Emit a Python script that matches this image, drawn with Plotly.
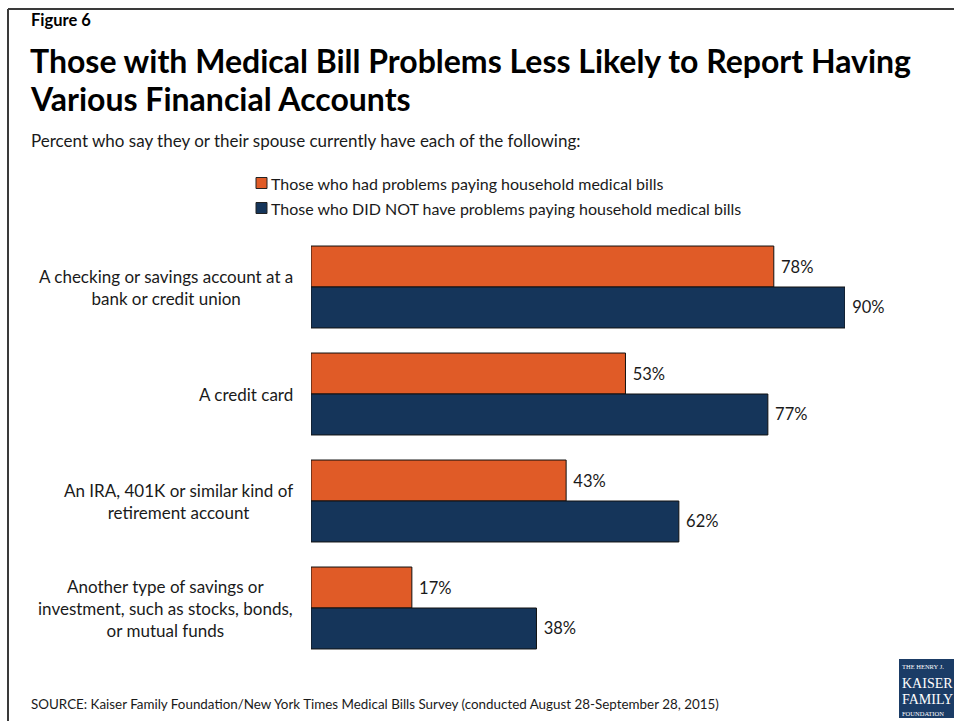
import plotly.graph_objects as go

# ---- data ----
categories = [
    "A checking or savings account at a<br>bank or credit union",
    "A credit card",
    "An IRA, 401K or similar kind of<br>retirement account",
    "Another type of savings or<br>investment, such as stocks, bonds,<br>or mutual funds",
]
series_names = [
    "Those who had problems paying household medical bills",
    "Those who DID NOT have problems paying household medical bills",
]
had_problems = [78, 53, 43, 17]
no_problems = [90, 77, 62, 38]

ORANGE = "#E05B27"
NAVY = "#15355A"
TEXT = "#1a1a1a"
FONT = "Lato"

W, H = 954, 721


def px(x):
    return x / W


def py(y):
    return 1 - y / H


fig = go.Figure()
for name, vals, color in [
    (series_names[0], had_problems, ORANGE),
    (series_names[1], no_problems, NAVY),
]:
    fig.add_trace(go.Bar(
        y=list(range(len(categories))),
        x=vals,
        orientation="h",
        name=name,
        marker=dict(color=color, line=dict(color="#111111", width=1)),
        text=[f"\u00a0{v}%" for v in vals],
        textposition="outside",
        textfont=dict(family=FONT, size=16.5, color=TEXT),
        cliponaxis=False,
        showlegend=False,
        hoverinfo="skip",
    ))

annotations = []
shapes = []

# category labels, centred lines, right edge aligned near the axis
for i, cat in enumerate(categories):
    annotations.append(dict(
        x=px(295), xref="paper", xanchor="right",
        y=i, yref="y", yanchor="middle",
        text=cat, showarrow=False, align="center",
        font=dict(family=FONT, size=17, color=TEXT),
    ))

# titles
annotations += [
    dict(x=px(29), y=py(20), xref="paper", yref="paper", xanchor="left", yanchor="middle",
         text="<b>Figure 6</b>", showarrow=False,
         font=dict(family=FONT, size=16.5, color="#000000")),
    dict(x=px(28), y=py(61), xref="paper", yref="paper", xanchor="left", yanchor="middle",
         text="<b>Those with Medical Bill Problems Less Likely to Report Having</b>",
         showarrow=False, font=dict(family=FONT, size=32, color="#000000")),
    dict(x=px(28), y=py(99), xref="paper", yref="paper", xanchor="left", yanchor="middle",
         text="<b>Various Financial Accounts</b>",
         showarrow=False, font=dict(family=FONT, size=32, color="#000000")),
    dict(x=px(29), y=py(140), xref="paper", yref="paper", xanchor="left", yanchor="middle",
         text="Percent who say they or their spouse currently have each of the following:",
         showarrow=False, font=dict(family=FONT, size=17, color=TEXT)),
    dict(x=px(29), y=py(704), xref="paper", yref="paper", xanchor="left", yanchor="middle",
         text="SOURCE: Kaiser Family Foundation/New York Times Medical Bills Survey (conducted August 28-September 28, 2015)",
         showarrow=False, font=dict(family=FONT, size=13.4, color=TEXT)),
]

# legend
for k, (name, color) in enumerate(zip(series_names, [ORANGE, NAVY])):
    yc = 183 + 25 * k
    shapes.append(dict(type="rect", xref="paper", yref="paper",
                       x0=px(256), x1=px(267), y0=py(yc - 5.5), y1=py(yc + 5.5),
                       fillcolor=color, line=dict(color="#222222", width=1)))
    annotations.append(dict(x=px(269), y=py(yc), xref="paper", yref="paper",
                            xanchor="left", yanchor="middle", text=name, showarrow=False,
                            font=dict(family=FONT, size=16, color=TEXT)))

# frame lines
shapes += [
    dict(type="line", xref="paper", yref="paper", x0=px(8), x1=1, y0=py(9), y1=py(9),
         line=dict(color="#3a3a3a", width=2)),
    dict(type="line", xref="paper", yref="paper", x0=px(8), x1=px(8), y0=py(9), y1=0,
         line=dict(color="#3a3a3a", width=2)),
]

# foundation logo block
shapes.append(dict(type="rect", xref="paper", yref="paper",
                   x0=px(899), x1=1, y0=py(718), y1=py(659),
                   fillcolor="#1B3C66", line=dict(width=0)))
for txt, yc, sz in [("THE HENRY J.", 666, 6.5), ("KAISER", 683, 14),
                    ("FAMILY", 699, 14), ("FOUNDATION", 713, 6.5)]:
    annotations.append(dict(x=px(901), y=py(yc), xref="paper", yref="paper",
                            xanchor="left", yanchor="middle", text=txt, showarrow=False,
                            borderpad=0,
                            font=dict(family="Liberation Serif", size=sz, color="#ffffff")))

fig.update_layout(
    width=W, height=H,
    margin=dict(l=0, r=0, t=0, b=0),
    paper_bgcolor="#ffffff", plot_bgcolor="#ffffff",
    barmode="group", bargap=0.234, bargroupgap=0,
    xaxis=dict(domain=[px(311), px(845)], range=[0, 90], visible=False),
    yaxis=dict(domain=[py(661.5), py(233.5)], range=[3.5, -0.5], visible=False),
    annotations=annotations, shapes=shapes,
    showlegend=False,
)

fig.write_html("out.html")
